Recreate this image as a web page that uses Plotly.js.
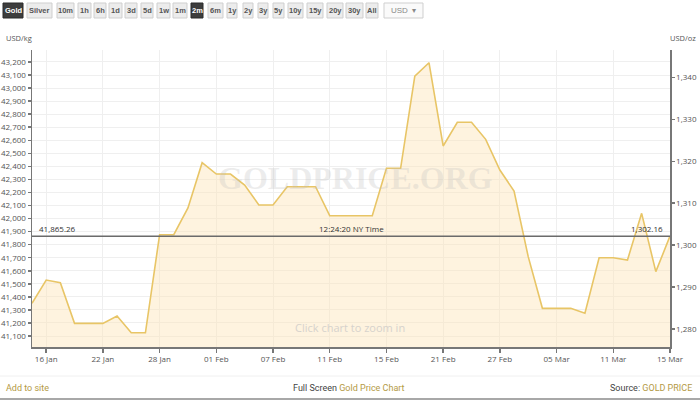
<!DOCTYPE html>
<html>
<head>
<meta charset="utf-8">
<script src="https://cdn.plot.ly/plotly-3.0.1.min.js"></script>
<style>html,body{margin:0;padding:0;background:#fff;}#chart{width:700px;height:400px;}</style>
</head>
<body>
<div id="chart"></div>
<script>
// ---- data ----
const dates = ['15 Jan','16 Jan','17 Jan','18 Jan','21 Jan','22 Jan','23 Jan','24 Jan','25 Jan','28 Jan','29 Jan','30 Jan','31 Jan','01 Feb','04 Feb','05 Feb','06 Feb','07 Feb','08 Feb','09 Feb','10 Feb','11 Feb','12 Feb','13 Feb','14 Feb','15 Feb','18 Feb','19 Feb','20 Feb','21 Feb','22 Feb','25 Feb','26 Feb','27 Feb','28 Feb','01 Mar','04 Mar','05 Mar','06 Mar','07 Mar','08 Mar','11 Mar','12 Mar','13 Mar','14 Mar','15 Mar'];
const priceUsdKg = [41351,41529,41508,41197,41197,41197,41253,41125,41125,41876,41876,42081,42428,42341,42341,42257,42104,42104,42244,42244,42244,42022,42022,42022,42022,42385,42385,43092,43194,42556,42738,42738,42607,42372,42211,41708,41312,41312,41312,41274,41700,41700,41682,42040,41593,41865];
const tickDates = ['16 Jan','22 Jan','28 Jan','01 Feb','07 Feb','11 Feb','15 Feb','21 Feb','27 Feb','05 Mar','11 Mar','15 Mar'];
const currentKg = 41865.26;
const currentOz = 1302.16;
const currentTime = '12:24:20 NY Time';
const ozPerKg = 32.1507;
const buttonLabels = ['Gold','Silver','10m','1h','6h','1d','3d','5d','1w','1m','2m','6m','1y','2y','3y','5y','10y','15y','20y','30y','All','USD  \u25BE'];
const selectedButtons = ['Gold','2m'];

// ---- layout constants (pixels) ----
const W = 700, H = 400, ML = 32, MR = 30, MT = 50, MB = 53;
const PW = W - ML - MR, PH = H - MT - MB;
const px = x => (x - ML) / PW;
const py = y => (H - MB - y) / PH;
const buttonBoxes = [[3,23],[27,52],[57,74],[78,91],[94,106],[109,122],[125,137],[141,153],[157,170],[173,187],[191,203],[208,223],[227,237],[243,253],[258,268],[273,284],[288,303],[307,323],[327,343],[346,363],[366,378],[384,423]];

const yRange = [41015.7, 43291.6];
const y2Range = [yRange[0] / ozPerKg, yRange[1] / ozPerKg];

const gold = '#e8c566';
const tickFont = {family: 'Open Sans, DejaVu Sans, sans-serif', size: 8, color: '#555'};

const traces = [
  {
    x: dates, y: priceUsdKg, type: 'scatter', mode: 'lines',
    line: {color: gold, width: 1.6}, fill: 'tozeroy',
    fillcolor: 'rgba(252,228,185,0.45)', hoverinfo: 'skip', showlegend: false
  },
  {
    x: dates, y: priceUsdKg.map(v => v / ozPerKg), yaxis: 'y2', type: 'scatter', mode: 'lines',
    line: {color: 'rgba(0,0,0,0)', width: 0}, hoverinfo: 'skip', showlegend: false
  }
];

const shapes = [
  {type: 'line', xref: 'paper', yref: 'y', x0: 0, x1: 1, y0: currentKg, y1: currentKg,
   line: {color: '#6b6b6b', width: 1.5}, layer: 'above'},
  {type: 'line', xref: 'paper', yref: 'paper', x0: px(0), x1: px(700), y0: py(376), y1: py(376),
   line: {color: '#f0f0f0', width: 1}},
  {type: 'line', xref: 'paper', yref: 'paper', x0: px(0), x1: px(700), y0: py(399), y1: py(399),
   line: {color: '#a8a8a8', width: 2}}
];

const annotations = [];
buttonLabels.forEach((lab, i) => {
  const [a, b] = buttonBoxes[i];
  const sel = selectedButtons.includes(lab);
  const isUsd = lab.startsWith('USD');
  shapes.push({type: 'rect', xref: 'paper', yref: 'paper', x0: px(a), x1: px(b), y0: py(18), y1: py(3),
    fillcolor: sel ? '#3d3d3d' : (isUsd ? '#fafafa' : '#ececec'), line: {color: sel ? '#2a2a2a' : '#cfcfcf', width: 1}});
  annotations.push({xref: 'paper', yref: 'paper', x: px((a + b) / 2), y: py(10.5), text: isUsd ? lab : '<b>' + lab + '</b>',
    showarrow: false, xanchor: 'center', yanchor: 'middle',
    font: {family: 'Liberation Sans, Arial, sans-serif', size: isUsd ? 8 : 7.5, color: sel ? '#ffffff' : (isUsd ? '#888' : '#555')}});
});

annotations.push(
  {xref: 'paper', yref: 'paper', x: px(4), y: py(38), text: 'USD/kg', showarrow: false, xanchor: 'left', yanchor: 'middle',
   font: {family: 'Open Sans, sans-serif', size: 7.5, color: '#555'}},
  {xref: 'paper', yref: 'paper', x: px(698), y: py(38), text: 'USD/oz', showarrow: false, xanchor: 'right', yanchor: 'middle',
   font: {family: 'Open Sans, sans-serif', size: 7.5, color: '#555'}},
  {xref: 'paper', yref: 'paper', x: px(355), y: py(178), text: '<b>GOLDPRICE.ORG</b>', showarrow: false,
   xanchor: 'center', yanchor: 'middle', font: {family: 'Liberation Serif, DejaVu Serif, serif', size: 32, color: 'rgba(190,190,190,0.28)'}},
  {xref: 'paper', yref: 'y', x: px(37), y: currentKg, text: currentKg.toLocaleString('en-US', {minimumFractionDigits: 2}),
   showarrow: false, xanchor: 'left', yanchor: 'bottom', yshift: 0, font: {family: 'Open Sans, sans-serif', size: 8, color: '#333'}},
  {xref: 'paper', yref: 'y', x: px(351), y: currentKg, text: currentTime,
   showarrow: false, xanchor: 'center', yanchor: 'bottom', font: {family: 'Open Sans, sans-serif', size: 8, color: '#333'}},
  {xref: 'paper', yref: 'y', x: px(665), y: currentKg, text: currentOz.toLocaleString('en-US', {minimumFractionDigits: 2}),
   showarrow: false, xanchor: 'right', yanchor: 'bottom', font: {family: 'Open Sans, sans-serif', size: 8, color: '#333'}},
  {xref: 'paper', yref: 'paper', x: px(350), y: py(327), text: 'Click chart to zoom in', showarrow: false,
   xanchor: 'center', yanchor: 'middle', font: {family: 'Open Sans, sans-serif', size: 11, color: '#d6d2cc'}},
  {xref: 'paper', yref: 'paper', x: px(4), y: py(388), text: 'Add to site', showarrow: false, xanchor: 'left', yanchor: 'middle',
   font: {family: 'Liberation Sans Narrow, Roboto, sans-serif', size: 9, color: '#b49a45'}},
  {xref: 'paper', yref: 'paper', x: px(349), y: py(388), text: '<span style="color:#444">Full Screen</span> Gold Price Chart', showarrow: false,
   xanchor: 'center', yanchor: 'middle', font: {family: 'Liberation Sans Narrow, Roboto, sans-serif', size: 9, color: '#b49a45'}},
  {xref: 'paper', yref: 'paper', x: px(694), y: py(388), text: '<span style="color:#444">Source:</span> GOLD PRICE', showarrow: false,
   xanchor: 'right', yanchor: 'middle', font: {family: 'Liberation Sans Narrow, Roboto, sans-serif', size: 9, color: '#b49a45'}}
);

const layout = {
  width: W, height: H,
  margin: {l: ML, r: MR, t: MT, b: MB, pad: 0},
  paper_bgcolor: '#ffffff', plot_bgcolor: '#ffffff',
  showlegend: false,
  xaxis: {
    type: 'category', range: [0, dates.length - 1], tickmode: 'array', tickvals: tickDates, ticktext: tickDates,
    showgrid: true, gridcolor: '#efefef', gridwidth: 1, showline: true, linecolor: '#777', linewidth: 1.5,
    ticks: 'outside', ticklen: 4, tickcolor: '#777', tickwidth: 1.5, tickfont: tickFont, fixedrange: true, zeroline: false
  },
  yaxis: {
    range: yRange, tickmode: 'linear', tick0: 41000, dtick: 100, tickformat: ',d',
    showgrid: true, gridcolor: '#efefef', gridwidth: 1, showline: true, linecolor: '#777', linewidth: 1.5,
    ticks: 'outside', ticklen: 3, tickcolor: '#777', tickwidth: 1.5, tickfont: tickFont, zeroline: false, fixedrange: true
  },
  yaxis2: {
    range: y2Range, overlaying: 'y', side: 'right', tickmode: 'linear', tick0: 1280, dtick: 10, tickformat: ',d',
    showgrid: false, showline: true, linecolor: '#777', linewidth: 1.5,
    ticks: 'outside', ticklen: 3, tickcolor: '#777', tickwidth: 1.5, tickfont: tickFont, zeroline: false, fixedrange: true
  },
  shapes: shapes,
  annotations: annotations
};

Plotly.newPlot('chart', traces, layout, {displayModeBar: false, staticPlot: true});
</script>
</body>
</html>
